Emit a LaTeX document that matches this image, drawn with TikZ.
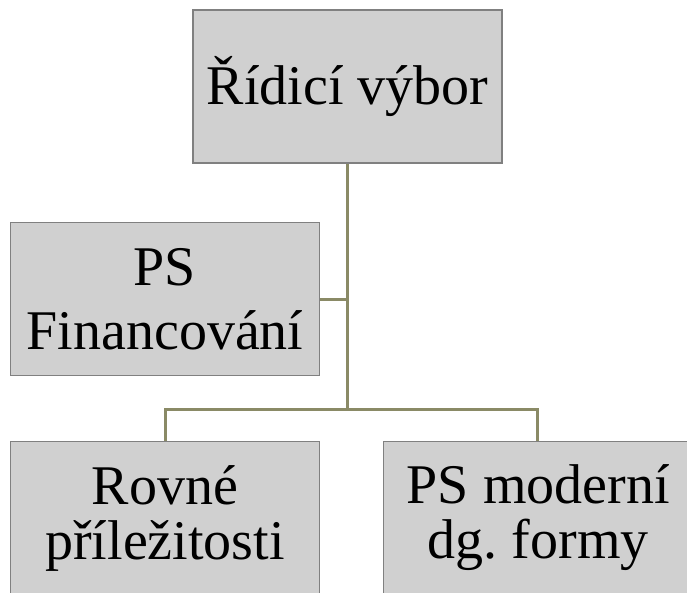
\documentclass[tikz,border=0pt]{standalone}
\usepackage{fontspec}
\setmainfont{Liberation Serif}
\usepackage{tikz}
\usetikzlibrary{positioning}
\definecolor{boxGray}{RGB}{208,208,208}
\definecolor{boxEdge}{RGB}{128,128,128}
\definecolor{lineOlive}{RGB}{138,138,102}
\frenchspacing

\begin{document}
\begin{tikzpicture}[x=1pt, y=-1pt,
    unit/.style={draw=boxEdge, line width=1.2pt, fill=boxGray,
        minimum width=309pt, minimum height=153pt, inner sep=0pt,
        align=center, font=\fontsize{56}{64}\selectfont},
    tight/.style={font=\fontsize{56}{55}\selectfont},
    link/.style={draw=lineOlive, line width=3pt}]
        \useasboundingbox (0,0) rectangle (687,593);
        \coordinate (T) at (347.5,86.5);
        \coordinate (F) at (165,299);
        \coordinate (R) at (165,518);
        \coordinate (split) at (347.5,409);

        \draw[link] (T) -- (split);
        \draw[link] (F) -- (F -| T);
        \draw[link] (split) -| (R);
        \draw[link] (split) -| (537.5,518);

        \node[unit] (vybor) at (T) {Řídicí výbor};
        \node[unit] (fin) at (F) {PS\\Financování};
        \node[unit, tight] (rovne) at (R) {Rovné\\příležitosti};
        \node[unit, tight, right=63pt of rovne] (forma) {PS moderní\\dg. formy};
    \end{tikzpicture}
\end{document}
